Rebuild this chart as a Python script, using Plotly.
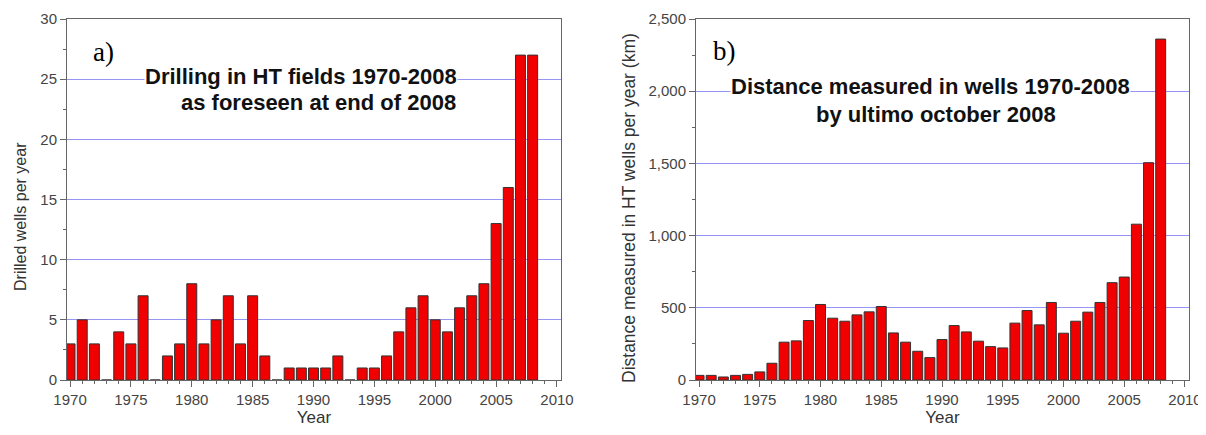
import plotly.graph_objects as go

years = list(range(1970, 2009))
wells = [3, 5, 3, 0, 4, 3, 7, 0, 2, 3, 8, 3, 5, 7, 3, 7, 2, 0, 1, 1, 1, 1, 2, 0, 1, 1,
         2, 4, 6, 7, 5, 4, 6, 7, 8, 13, 16, 27, 27]
distance_km = [32, 32, 21, 32, 39, 56, 116, 262, 271, 412, 523, 428, 407, 451, 472, 509,
               326, 262, 199, 155, 280, 377, 333, 269, 231, 222, 394, 481, 382, 537, 324,
               407, 470, 537, 674, 713, 1079, 1505, 2361]

x_ticks = [1970, 1975, 1980, 1985, 1990, 1995, 2000, 2005, 2010]
left_y_ticks = [0, 5, 10, 15, 20, 25, 30]
right_y_ticks = [0, 500, 1000, 1500, 2000, 2500]

left_label = "a)"
right_label = "b)"
left_title = ["Drilling in HT fields 1970-2008", "as foreseen at end of 2008"]
right_title = ["Distance measured in wells 1970-2008", "by ultimo october 2008"]
left_ytitle = "Drilled wells per year"
right_ytitle = "Distance measured in HT wells per year (km)"
x_title = "Year"

FONT = "Liberation Sans, Arial, sans-serif"
BAR = "#f00000"
GRID = "#9595f2"
FRAME = "#666666"

fig = go.Figure()
fig.add_trace(go.Bar(x=years, y=wells, xaxis="x", yaxis="y",
                     marker=dict(color=BAR, line=dict(color="#333333", width=1)),
                     showlegend=False))
fig.add_trace(go.Bar(x=years, y=distance_km, xaxis="x2", yaxis="y2",
                     marker=dict(color=BAR, line=dict(color="#333333", width=1)),
                     showlegend=False))

# page body has an 8px margin, so the figure is drawn 8px in from the top-left
OFF = 8
W, H = 1206 - OFF - 2, 435 - 2 * OFF

def px(x):
    return (x - OFF) / W

def py(y):
    return (H - (y - OFF)) / H

ydom = [py(380), py(19)]

def xaxis(dom, anchor):
    return dict(domain=dom, anchor=anchor, range=[1969.75, 2010.33], automargin=False,
                tickvals=x_ticks, ticks="outside", ticklen=6, tickcolor=FRAME,
                ticklabeloverflow="allow",
                tickfont=dict(family=FONT, size=15, color="#444444"),
                minor=dict(dtick=1, tick0=1970, ticks="outside", ticklen=3, tickcolor=FRAME),
                showline=True, linecolor=FRAME, linewidth=1, mirror=True,
                showgrid=False, zeroline=False,
                title=dict(text=x_title, font=dict(family=FONT, size=17, color="#333333"),
                           standoff=4))

def yaxis(anchor, ymax, tvals, minor_dt, fmt):
    return dict(domain=ydom, anchor=anchor, range=[0, ymax], tickvals=tvals, automargin=False,
                tickformat=fmt, ticks="outside", ticklen=6, tickcolor=FRAME,
                tickfont=dict(family=FONT, size=15, color="#444444"),
                minor=dict(dtick=minor_dt, ticks="outside", ticklen=3, tickcolor=FRAME,
                           showgrid=False),
                showline=True, linecolor=FRAME, linewidth=1, mirror=True,
                showgrid=True, gridcolor=GRID, gridwidth=1, zeroline=False)

fig.update_layout(
    width=W, height=H,
    margin=dict(l=0, r=0, t=0, b=0),
    paper_bgcolor="white", plot_bgcolor="white",
    bargap=0.18,
    xaxis=xaxis([px(67), px(561)], "y"),
    yaxis=yaxis("x", 30, left_y_ticks, 2.5, "d"),
    xaxis2=xaxis([px(696), px(1189)], "y2"),
    yaxis2=yaxis("x2", 2500, right_y_ticks, 250, ",d"),
)

serif = dict(family="Liberation Serif, Times New Roman, serif", size=27, color="black")
ann = []
ann.append(dict(xref="paper", yref="paper", x=px(20), y=py(217), text=left_ytitle,
                textangle=-90, xanchor="center", yanchor="middle", showarrow=False,
                font=dict(family=FONT, size=16, color="#333333")))
ann.append(dict(xref="paper", yref="paper", x=px(629), y=py(208), text=right_ytitle,
                textangle=-90, xanchor="center", yanchor="middle", showarrow=False,
                font=dict(family=FONT, size=17.5, color="#333333")))
ann.append(dict(xref="paper", yref="paper", x=px(103), y=py(52), text=left_label,
                xanchor="center", yanchor="middle", showarrow=False, font=serif))
ann.append(dict(xref="paper", yref="paper", x=px(724), y=py(51), text=right_label,
                xanchor="center", yanchor="middle", showarrow=False, font=serif))
tf = dict(family=FONT, size=22, color="#111111")
ann.append(dict(xref="x", yref="y", x=2001.9, y=25.2, text="<b>%s</b>" % left_title[0],
                xanchor="right", yanchor="middle", showarrow=False, bgcolor="white",
                borderpad=0, font=tf))
ann.append(dict(xref="x", yref="y", x=2001.9, y=23.05, text="<b>%s</b>" % left_title[1],
                xanchor="right", yanchor="middle", showarrow=False, font=tf))
ann.append(dict(xref="x2", yref="y2", x=1989.05, y=2030, text="<b>%s</b>" % right_title[0],
                xanchor="center", yanchor="middle", showarrow=False, bgcolor="white",
                borderpad=0, font=tf))
ann.append(dict(xref="x2", yref="y2", x=1989.5, y=1840, text="<b>%s</b>" % right_title[1],
                xanchor="center", yanchor="middle", showarrow=False, font=tf))
fig.update_layout(annotations=ann)

fig.write_html("out.html")
